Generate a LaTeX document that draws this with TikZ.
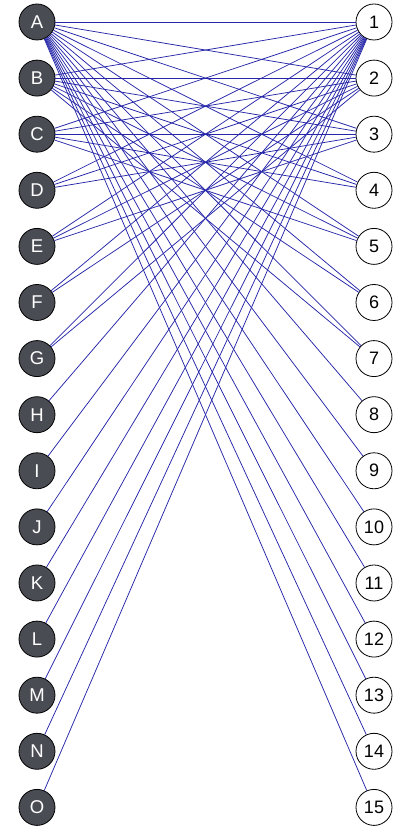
\documentclass[tikz,border=0pt]{standalone}
\usepackage{fontspec}
\setmainfont{Liberation Sans}
\definecolor{lnode}{HTML}{4A4C54}
\definecolor{edgeblue}{HTML}{2626A8}
\begin{document}
\begin{tikzpicture}[x=1pt,y=1pt,
  leftnode/.style={circle,draw=black,line width=0.8pt,fill=lnode,text=white,minimum size=36pt,inner sep=0pt,font=\fontsize{18.5}{18.5}\selectfont},
  rightnode/.style={circle,draw=black,line width=0.8pt,fill=white,text=black,minimum size=36pt,inner sep=0pt,font=\fontsize{18}{18}\selectfont},
  edge/.style={draw=edgeblue,line width=0.75pt}]
\useasboundingbox (0,0) rectangle (400,829);
\foreach \i/\l in {1/A,2/B,3/C,4/D,5/E,6/F,7/G,8/H,9/I,10/J,11/K,12/L,13/M,14/N,15/O}{
  \node[leftnode] (L\i) at (37,{829-22-56.1*(\i-1)}) {\l};
  \node[rightnode] (R\i) at (374,{829-22-56.1*(\i-1)}) {\i};
}
\foreach \i in {1,...,15}{
  \pgfmathtruncatemacro{\m}{floor(15/\i)}
  \foreach \j in {1,...,\m}{
    \draw[edge] (L\i) -- (R\j);
  }
}
\end{tikzpicture}
\end{document}
